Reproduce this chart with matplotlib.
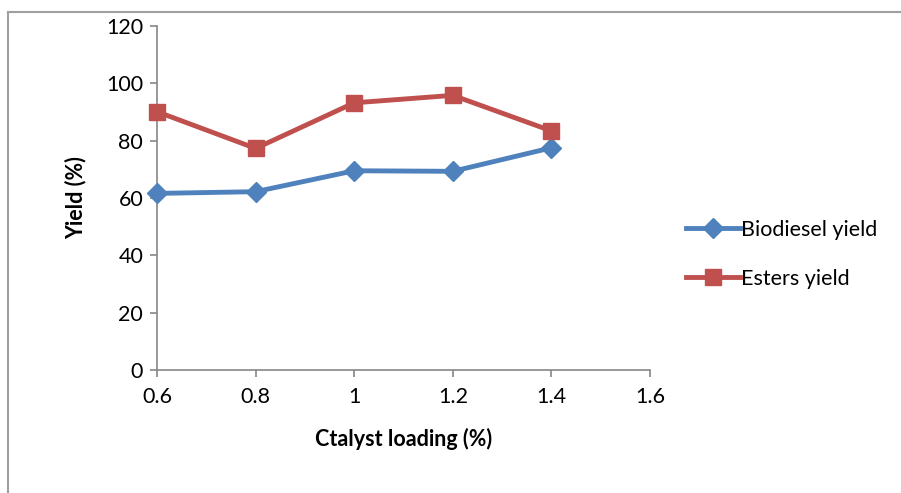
import matplotlib
matplotlib.use("Agg")
import matplotlib.pyplot as plt
from matplotlib.lines import Line2D

plt.rcParams['font.family'] = ['Lato', 'DejaVu Sans']

# catalyst loading (%) and yields (%)
loading = [0.6, 0.8, 1.0, 1.2, 1.4]
biodiesel_yield = [61.6, 62.2, 69.5, 69.3, 77.5]
esters_yield = [90.1, 77.3, 93.2, 95.8, 83.4]

x_ticks = [0.6, 0.8, 1.0, 1.2, 1.4, 1.6]
x_labels = ['0.6', '0.8', '1', '1.2', '1.4', '1.6']
y_ticks = [0, 20, 40, 60, 80, 100, 120]

blue = '#4F81BD'
red = '#C0504D'
axis_grey = '#868686'
fs = 15.5

fig = plt.figure(figsize=(9.01, 4.93), dpi=100)
ax = fig.add_axes([0.1743, 0.2495, 0.7214 - 0.1743, 0.9473 - 0.2495])

ax.plot(loading, biodiesel_yield, color=blue, lw=3.5, marker='D', ms=10,
        label='Biodiesel yield', zorder=3)
ax.plot(loading, esters_yield, color=red, lw=3.5, marker='s', ms=11.5,
        label='Esters yield', zorder=3)

ax.set_xlim(0.6, 1.6)
ax.set_ylim(0, 120)
ax.set_xticks(x_ticks)
ax.set_xticklabels(x_labels)
ax.set_yticks(y_ticks)

for side in ('top', 'right'):
    ax.spines[side].set_visible(False)
for side in ('left', 'bottom'):
    ax.spines[side].set_color(axis_grey)
    ax.spines[side].set_linewidth(1.2)
    ax.spines[side].set_clip_on(False)

ax.tick_params(axis='both', direction='out', length=5, width=1.2,
               color=axis_grey, labelsize=fs, labelcolor='black')
ax.tick_params(axis='x', pad=7)
ax.tick_params(axis='y', pad=5)

ax.set_xlabel('Ctalyst loading (%)', fontsize=fs, fontweight='bold', labelpad=15)
ax.set_ylabel('Yield (%)', fontsize=fs, fontweight='bold', labelpad=14)

for line in ax.lines:
    line.set_clip_on(False)

ax.legend(loc='center left', bbox_to_anchor=(0.740, 0.484),
          bbox_transform=fig.transFigure, frameon=False, fontsize=fs,
          handlelength=2.5, handletextpad=0.05, labelspacing=1.35)

# chart frame
fig.add_artist(Line2D([8 / 901, 8 / 901], [0, 1 - 11.5 / 493],
                      transform=fig.transFigure, color='#A0A0A0', lw=1.5))
fig.add_artist(Line2D([8 / 901, 1], [1 - 11.5 / 493, 1 - 11.5 / 493],
                      transform=fig.transFigure, color='#A0A0A0', lw=1.5))

fig.savefig('out.png', dpi=100)
